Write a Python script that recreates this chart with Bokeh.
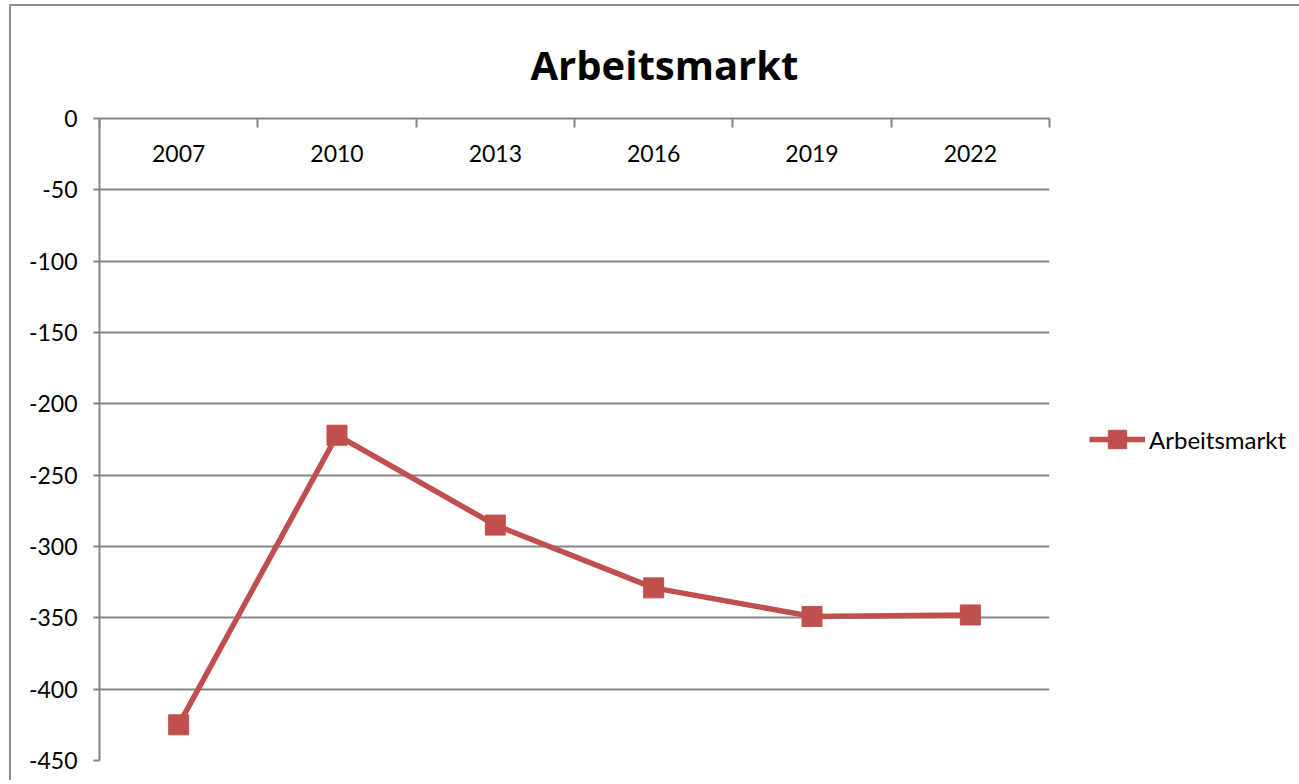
from bokeh.plotting import figure
from bokeh.models import (Range1d, LinearAxis, FixedTicker, Legend, LegendItem,
                          ColumnDataSource)
from bokeh.core.properties import value
from bokeh.embed import file_html
from bokeh.resources import INLINE

# ---- data ----
years = ["2007", "2010", "2013", "2016", "2019", "2022"]
arbeitsmarkt = [-425, -222, -285, -329, -349, -348]
y_ticks = [-450, -400, -350, -300, -250, -200, -150, -100, -50, 0]

RED = "#C0504D"
GRID = "#868686"
FONT = "Lato"

xpos = [i + 0.5 for i in range(len(years))]
src = ColumnDataSource(dict(x=xpos, y=arbeitsmarkt, year=years,
                            y0=[0] * len(years)))

p = figure(frame_width=950, frame_height=642, output_backend="svg", toolbar_location=None,
           x_range=Range1d(0, len(years)), y_range=Range1d(-450, 0),
           x_axis_location=None, y_axis_location=None,
           min_border_left=88, min_border_right=0,
           min_border_top=112, min_border_bottom=20)
p.outline_line_color = None
p.background_fill_color = "white"
p.border_fill_color = "white"
p.styles = {"margin-left": "9px", "margin-top": "4px",
            "border-left": "2px solid #8c8c8c", "border-top": "2px solid #8c8c8c"}

# title
p.title.text = "Arbeitsmarkt"
p.title.text_font = "Open Sans"
p.title.text_font_size = "40px"
p.title.text_font_style = "bold"
p.title.text_color = "#000000"
p.title.align = "left"
p.title.offset = 431
p.title.standoff = 54

# y axis
yax = LinearAxis(ticker=FixedTicker(ticks=y_ticks))
yax.axis_line_color = GRID
yax.axis_line_width = 2
yax.major_tick_line_color = GRID
yax.major_tick_line_width = 2
yax.major_tick_out = 6
yax.major_tick_in = 0
yax.minor_tick_line_color = None
yax.major_label_text_font = FONT
yax.major_label_text_font_size = "23px"
yax.major_label_text_color = "#000000"
yax.major_label_standoff = 16
yax.major_label_overrides = {t: str(t) for t in y_ticks}
p.add_layout(yax, "left")

# x axis (category boundaries, at y=0 on top)
xax = LinearAxis(ticker=FixedTicker(ticks=list(range(len(years) + 1))))
xax.axis_line_color = GRID
xax.axis_line_width = 2
xax.major_tick_line_color = GRID
xax.major_tick_line_width = 2
xax.major_tick_in = 9
xax.major_tick_out = 0
xax.minor_tick_line_color = None
xax.major_label_text_font_size = "0px"
xax.major_label_standoff = 0
xax.major_label_overrides = {i: "" for i in range(len(years) + 1)}
p.add_layout(xax, "above")

p.xgrid.grid_line_color = None
p.ygrid.ticker = FixedTicker(ticks=y_ticks)
p.ygrid.grid_line_color = GRID
p.ygrid.grid_line_width = 2

# category labels under the top axis line
p.text(x="x", y="y0", text="year", source=src, text_font=value(FONT),
       text_font_size="23px", text_color="#000000", text_align="center",
       text_baseline="middle", y_offset=35)

# series
ln = p.line(x="x", y="y", source=src, line_color=RED, line_width=5.5)
mk = p.scatter(x="x", y="y", source=src, marker="square", size=20,
               fill_color=RED, line_color=RED)

legend = Legend(items=[LegendItem(label="Arbeitsmarkt", renderers=[ln, mk])],
                location="left")
legend.title = " "
legend.title_location = "left"
legend.title_text_font_size = "1px"
legend.title_text_alpha = 0
legend.title_standoff = 37
legend.label_text_font = FONT
legend.label_text_font_size = "24px"
legend.label_text_color = "#000000"
legend.glyph_width = 56
legend.glyph_height = 46
legend.label_standoff = 4
legend.border_line_color = None
legend.background_fill_alpha = 0
legend.padding = 2
legend.margin = 2
p.add_layout(legend, "right")

open("out.html", "w").write(file_html(p, INLINE))
